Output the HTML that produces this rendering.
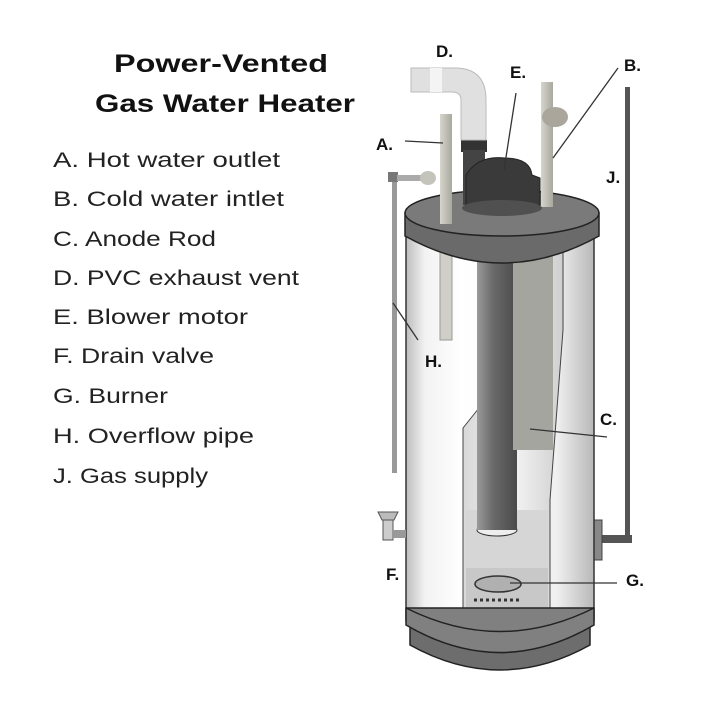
<!DOCTYPE html>
<html><head><meta charset="utf-8"><style>html,body{margin:0;padding:0;background:#fff}svg{display:block}</style></head>
<body>
<svg width="720" height="720" viewBox="0 0 720 720" xmlns="http://www.w3.org/2000/svg" font-family="Liberation Sans, sans-serif">
<defs>
<linearGradient id="tank" x1="0" x2="1" y1="0" y2="0">
<stop offset="0" stop-color="#bdbdbd"/><stop offset="0.1" stop-color="#f2f2f2"/><stop offset="0.3" stop-color="#ffffff"/><stop offset="0.8" stop-color="#f0f0f0"/><stop offset="1" stop-color="#b8b8b8"/></linearGradient>
<linearGradient id="inner" x1="0" x2="1"><stop offset="0" stop-color="#d8d8d8"/><stop offset="0.5" stop-color="#f4f4f4"/><stop offset="1" stop-color="#cfcfcf"/></linearGradient>
<linearGradient id="flue" x1="0" x2="1"><stop offset="0" stop-color="#9a9a9a"/><stop offset="0.4" stop-color="#6a6a6a"/><stop offset="1" stop-color="#4a4a4a"/></linearGradient>
<linearGradient id="pipe" x1="0" x2="1"><stop offset="0" stop-color="#d6d6cc"/><stop offset="1" stop-color="#a8a89e"/></linearGradient>
</defs>
<!-- text -->
<g font-weight="bold" fill="#111" font-size="25">
<text x="114" y="72" textLength="214" lengthAdjust="spacingAndGlyphs">Power-Vented</text>
<text x="95" y="112" textLength="260" lengthAdjust="spacingAndGlyphs">Gas Water Heater</text>
</g>
<g fill="#222" font-size="21">
<text x="53" y="167" textLength="227" lengthAdjust="spacingAndGlyphs">A. Hot water outlet</text>
<text x="53" y="206" textLength="231" lengthAdjust="spacingAndGlyphs">B. Cold water intlet</text>
<text x="53" y="246" textLength="163" lengthAdjust="spacingAndGlyphs">C. Anode Rod</text>
<text x="53" y="285" textLength="246" lengthAdjust="spacingAndGlyphs">D. PVC exhaust vent</text>
<text x="53" y="324" textLength="195" lengthAdjust="spacingAndGlyphs">E. Blower motor</text>
<text x="53" y="363" textLength="161" lengthAdjust="spacingAndGlyphs">F. Drain valve</text>
<text x="53" y="403" textLength="115" lengthAdjust="spacingAndGlyphs">G. Burner</text>
<text x="53" y="443" textLength="201" lengthAdjust="spacingAndGlyphs">H. Overflow pipe</text>
<text x="53" y="483" textLength="155" lengthAdjust="spacingAndGlyphs">J. Gas supply</text>
</g>
<!-- gas pipe J -->
<rect x="625" y="87" width="5" height="455" fill="#555"/>
<rect x="596" y="535" width="36" height="8" fill="#555"/>
<rect x="590" y="520" width="12" height="40" fill="#888" stroke="#444"/>
<!-- tank body -->
<rect x="406" y="230" width="188" height="390" fill="url(#tank)" stroke="#333" stroke-width="1.5"/>
<!-- cutaway -->
<path d="M487 245 L563 245 L563 330 L550 500 L550 615 L463 615 L463 428 L487 398 Z" fill="url(#inner)" stroke="#444" stroke-width="1"/>
<rect x="466" y="510" width="82" height="100" fill="#d6d6d6"/>
<rect x="466" y="568" width="82" height="42" fill="#c8c8c8"/>
<ellipse cx="497" cy="530" rx="20" ry="6" fill="#eee" stroke="#333"/>
<rect x="477" y="245" width="40" height="285" fill="url(#flue)"/>
<rect x="513" y="245" width="40" height="205" fill="#a5a5a0"/>
<ellipse cx="498" cy="584" rx="23" ry="8" fill="#b0b0b0" stroke="#333" stroke-width="1.5"/>
<path d="M474 600 h48" stroke="#333" stroke-width="3" stroke-dasharray="3 3"/>
<path d="M480 618 q18 8 36 0" stroke="#222" stroke-width="4" fill="none"/>
<!-- A dip tube -->
<rect x="440" y="222" width="12" height="118" fill="#cfcfc8" stroke="#999"/>
<!-- base -->
<path d="M410 620 Q500 685 590 620 L590 645 Q500 695 410 645 Z" fill="#6d6d6d" stroke="#222" stroke-width="1.5"/>
<path d="M406 608 L594 608 L594 625 Q500 680 406 625 Z" fill="#808080" stroke="#222" stroke-width="1.5"/>
<path d="M406 608 Q500 655 594 608" fill="none" stroke="#222" stroke-width="1.5"/>
<!-- lid -->
<path d="M405 213 L599 213 L599 236 Q502 290 405 236 Z" fill="#6a6a6a" stroke="#222" stroke-width="1.5"/>
<ellipse cx="502" cy="213" rx="97" ry="23" fill="#7a7a7a" stroke="#222" stroke-width="1.5"/>
<!-- H overflow pipe -->
<rect x="392" y="178" width="5" height="295" fill="#999"/>
<rect x="388" y="172" width="10" height="10" fill="#777"/>
<rect x="397" y="175" width="38" height="6" fill="#aaa"/>
<ellipse cx="428" cy="178" rx="8" ry="7" fill="#c4c4bc"/>
<!-- drain F -->
<path d="M378 512 h20 l-4 8 h-12 z" fill="#bbb" stroke="#555"/>
<rect x="383" y="520" width="10" height="20" fill="#ccc" stroke="#555"/>
<rect x="392" y="530" width="14" height="8" fill="#999"/>
<!-- A pipe -->
<rect x="440" y="114" width="12" height="110" fill="url(#pipe)"/>
<!-- B pipe -->
<rect x="541" y="82" width="12" height="125" fill="url(#pipe)"/>
<ellipse cx="555" cy="117" rx="13" ry="10" fill="#aaa69c"/>
<!-- blower -->
<rect x="461" y="140" width="26" height="12" fill="#333"/>
<rect x="463" y="150" width="22" height="55" fill="#444"/>
<path d="M466 205 L466 175 Q478 155 505 158 Q530 158 532 175 L540 178 L540 205 Q500 215 466 205 Z" fill="#3a3a3a" stroke="#222"/>
<ellipse cx="502" cy="208" rx="40" ry="8" fill="#505050"/>
<!-- vent D -->
<path d="M411 68 H455 Q486 68 486 100 V140 H461 V100 Q461 92 452 92 H411 Z" fill="#e0e0e0" stroke="#bbb"/>
<rect x="430" y="68" width="12" height="24" fill="#f4f4f4"/>
<!-- leaders -->
<g stroke="#333" stroke-width="1.3" fill="none">
<line x1="405" y1="141" x2="443" y2="143"/>
<line x1="516" y1="93" x2="504" y2="170"/>
<line x1="618" y1="68" x2="553" y2="158"/>
<line x1="393" y1="303" x2="418" y2="340"/>
<line x1="530" y1="429" x2="607" y2="437"/>
<line x1="510" y1="583" x2="617" y2="583"/>
</g>
<g font-weight="bold" fill="#111" font-size="17">
<text x="436" y="57">D.</text>
<text x="510" y="78">E.</text>
<text x="624" y="71">B.</text>
<text x="376" y="150">A.</text>
<text x="606" y="183">J.</text>
<text x="425" y="367">H.</text>
<text x="600" y="425">C.</text>
<text x="386" y="580">F.</text>
<text x="626" y="586">G.</text>
</g>
</svg>
</body></html>
